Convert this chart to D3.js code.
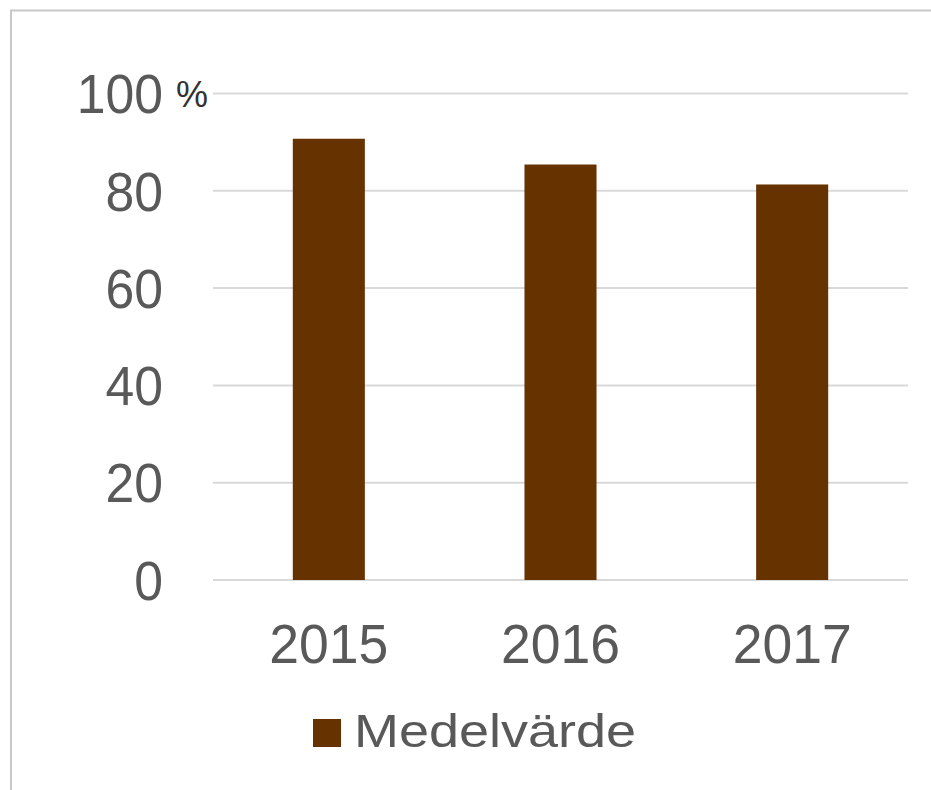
<!DOCTYPE html>
<html>
<head>
<meta charset="utf-8">
<script src="https://cdn.jsdelivr.net/npm/d3@7"></script>
<style>
  html, body { margin: 0; padding: 0; background: #fff; }
  svg { display: block; }
  text { font-family: "Liberation Sans", Arial, sans-serif; }
</style>
</head>
<body>
<svg id="chart" width="931" height="790"></svg>
<script>
const categories = ["2015", "2016", "2017"];
const values = [90.7, 85.4, 81.3];
const yTicks = [0, 20, 40, 60, 80, 100];
const seriesName = "Medelvärde";
const unitLabel = "%";

const svg = d3.select("#chart");
const barColor = "#663300";
const textColor = "#595959";

// frame
svg.append("rect")
  .attr("x", 11).attr("y", 10.5)
  .attr("width", 940).attr("height", 800)
  .attr("fill", "none").attr("stroke", "#c8c8c8").attr("stroke-width", 2);

const x = d3.scaleBand().domain(categories).range([213, 908])
  .paddingInner(0.689).paddingOuter(0.3445);
const y = d3.scaleLinear().domain([0, 100]).range([580, 93.5]);

// gridlines
svg.append("g").selectAll("line").data(yTicks).join("line")
  .attr("x1", 213).attr("x2", 908)
  .attr("y1", d => y(d)).attr("y2", d => y(d))
  .attr("stroke", "#d9d9d9").attr("stroke-width", 2);

// y axis labels
const yAxis = d3.axisLeft(y).tickValues(yTicks).tickSize(0).tickPadding(0);
const yg = svg.append("g").attr("transform", "translate(163,0)").call(yAxis);
yg.select(".domain").remove();
yg.selectAll("text")
  .attr("fill", textColor)
  .attr("font-size", 55)
  .attr("font-family", "'Liberation Sans', Arial, sans-serif")
  .attr("dy", "0.35em")
  .attr("transform", "scale(0.94,1)");

svg.append("text")
  .attr("x", 176).attr("y", y(100) + 13)
  .attr("fill", "#333")
  .attr("font-size", 36)
  .text(unitLabel);

// bars
svg.append("g").selectAll("rect").data(values).join("rect")
  .attr("x", (d, i) => x(categories[i]))
  .attr("width", x.bandwidth())
  .attr("y", d => y(d))
  .attr("height", d => y(0) - y(d))
  .attr("fill", barColor);

// x axis labels
const xAxis = d3.axisBottom(x).tickSize(0).tickPadding(0);
const xg = svg.append("g").attr("transform", "translate(0,663)").call(xAxis);
xg.select(".domain").remove();
xg.selectAll("text")
  .attr("fill", textColor)
  .attr("font-size", 55)
  .attr("font-family", "'Liberation Sans', Arial, sans-serif")
  .attr("dy", 0)
  .attr("textLength", 119)
  .attr("lengthAdjust", "spacingAndGlyphs");

// legend
const lg = svg.append("g");
lg.append("rect")
  .attr("x", 313).attr("y", 719).attr("width", 28).attr("height", 28)
  .attr("fill", barColor);
lg.append("text")
  .attr("x", 354).attr("y", 746.5)
  .attr("fill", textColor)
  .attr("font-size", 47)
  .attr("textLength", 282)
  .attr("lengthAdjust", "spacingAndGlyphs")
  .text(seriesName);
</script>
</body>
</html>
